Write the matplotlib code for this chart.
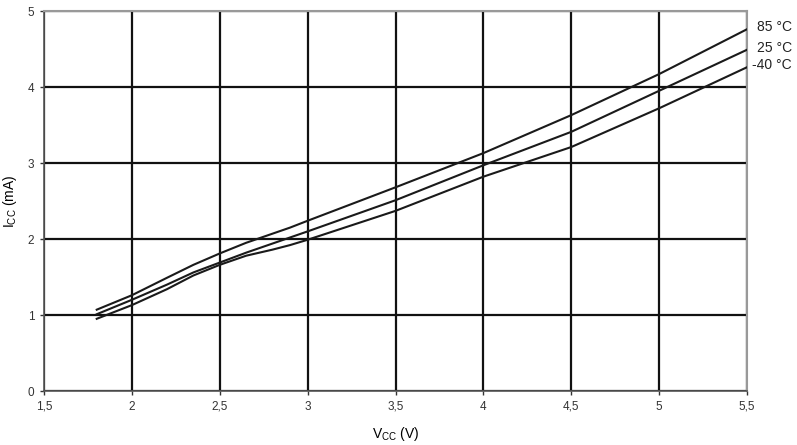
import matplotlib
matplotlib.use("Agg")
import matplotlib.pyplot as plt
from matplotlib.ticker import FuncFormatter

plt.rcParams['font.family'] = 'Liberation Sans'
plt.rcParams['mathtext.fontset'] = 'custom'
plt.rcParams['mathtext.rm'] = 'Liberation Sans'

# supply voltage (V)
vcc = [1.8, 2.0, 2.2, 2.35, 2.5, 2.65, 2.8, 2.9, 3.0, 3.5, 4.0, 4.5, 5.0, 5.5]

# supply current (mA) per temperature
icc_85 = [1.07, 1.26, 1.49, 1.66, 1.81, 1.95, 2.07, 2.15, 2.24, 2.68, 3.13, 3.63, 4.17, 4.76]
icc_25 = [1.01, 1.20, 1.40, 1.56, 1.69, 1.82, 1.94, 2.02, 2.10, 2.51, 2.97, 3.41, 3.95, 4.49]
icc_m40 = [0.95, 1.13, 1.34, 1.52, 1.66, 1.78, 1.86, 1.92, 1.99, 2.37, 2.82, 3.21, 3.72, 4.26]

labels = ["85 °C", "25 °C", "-40 °C"]
series = [icc_85, icc_25, icc_m40]

fig = plt.figure(figsize=(7.97, 4.45), dpi=100)
ax = fig.add_axes([44 / 797, 1 - 391 / 445, 703 / 797, 380 / 445])

for vals in series:
    ax.plot(vcc, vals, color='#1a1a1a', linewidth=1.5, zorder=3)

ax.set_xlim(1.5, 5.5)
ax.set_ylim(0, 5)
ax.set_xticks([1.5, 2, 2.5, 3, 3.5, 4, 4.5, 5, 5.5])
ax.set_yticks([0, 1, 2, 3, 4, 5])
ax.xaxis.set_major_formatter(FuncFormatter(lambda v, p: f"{v:g}".replace('.', ',')))
ax.grid(True, color='#111111', linewidth=1.6, zorder=1)
ax.tick_params(direction='out', length=3, width=1, colors='#333333', labelsize=8.5, pad=4)

for side in ['top', 'right']:
    ax.spines[side].set_color('#999999')
    ax.spines[side].set_linewidth(1.5)
for side in ['left', 'bottom']:
    ax.spines[side].set_color('#555555')
    ax.spines[side].set_linewidth(1.2)

ax.set_xlabel(r"V$_{\mathrm{CC}}$ (V)", fontsize=10, labelpad=9)
ax.set_ylabel(r"I$_{\mathrm{CC}}$ (mA)", fontsize=10, labelpad=6)

for lab, vals in zip(labels, series):
    y_px = ax.transData.transform((5.5, vals[-1]))[1]
    fig.text(792 / 797, y_px / fig.dpi / 4.45 + 0.004, lab, ha='right', va='center',
             fontsize=10, color='#222222')

fig.savefig("out.png", dpi=100)
